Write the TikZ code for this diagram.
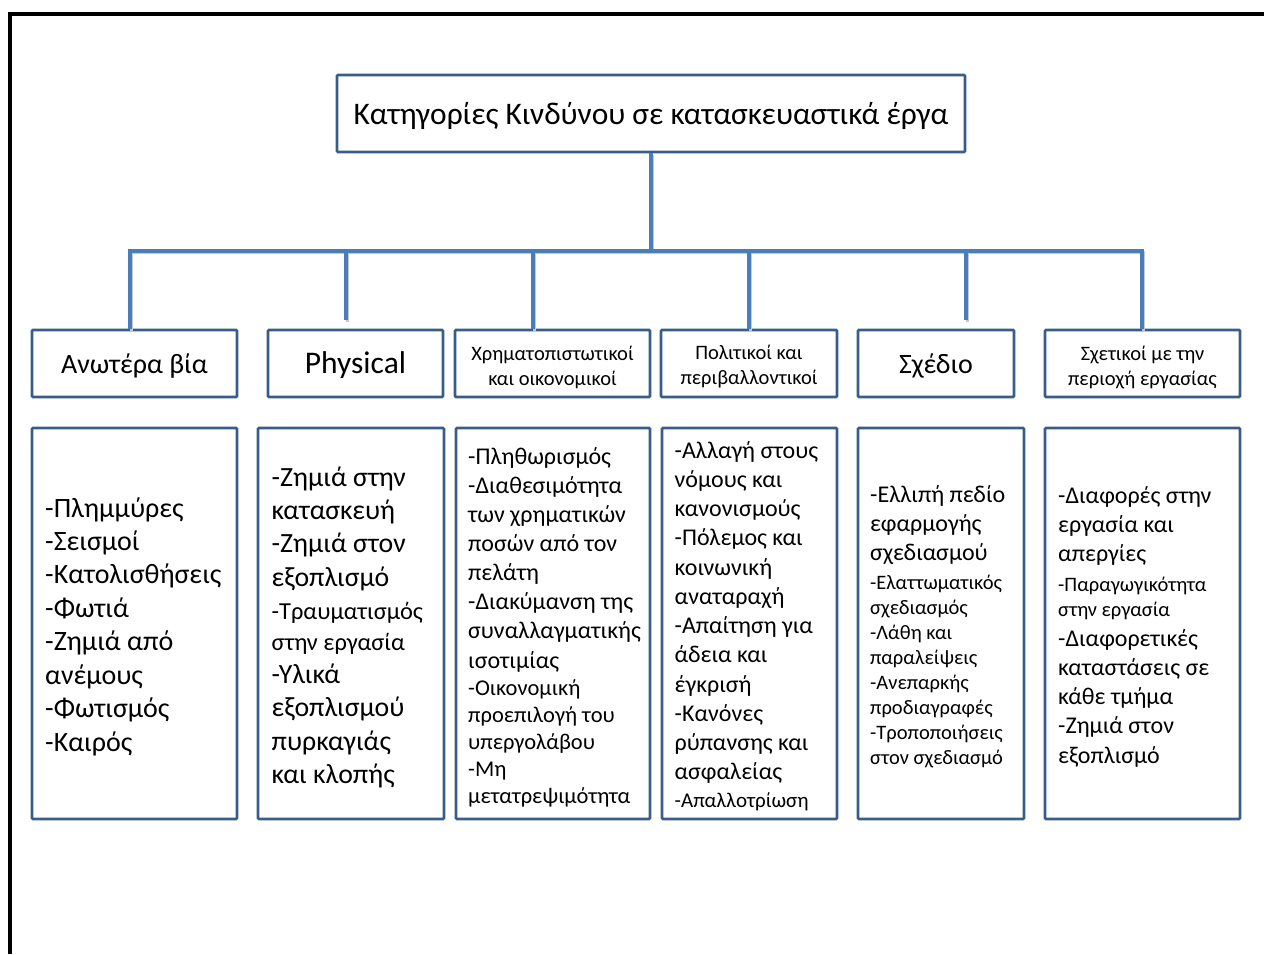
\documentclass[tikz,border=0pt]{standalone}
\usepackage{fontspec}
\setmainfont{Carlito}
\definecolor{boxblue}{HTML}{385D8A}
\definecolor{linkblue}{HTML}{4A7EBB}
% font size / line spacing
\newcommand\fsz[2]{\fontsize{#1}{#2}\selectfont}
% one line of a list
\newcommand\itm[1]{\hbox{#1}}
% list block: first baseline is the node's baseline, spacing exactly \baselineskip
\newcommand\lst[1]{\vtop{\lineskiplimit=-\maxdimen #1}}
\begin{document}
\begin{tikzpicture}[x=1pt,y=-1pt,
  frame/.style={draw=boxblue, line width=2.6pt, rounded corners=1pt, inner sep=0pt, fill=white},
  head/.style={frame, minimum height=67pt},
  body/.style={frame, minimum height=391pt},
  link/.style={draw=linkblue, line width=3.2pt, line join=miter,
    preaction={draw=black!22, line width=3.2pt, transform canvas={shift={(1.2pt,-1.8pt)}}}},
  list/.style={anchor=base west, inner sep=0pt},
  onelabel/.style={anchor=base, inner sep=0pt},
  twoline/.style={align=center, inner sep=0pt, font=\fsz{20.5}{25}},
]
\useasboundingbox (0,0) rectangle (1264,954);

% page frame (top and left rules)
\coordinate (fA) at (10,954);
\coordinate (fB) at (10,14);
\coordinate (fC) at (1264,14);
\draw[line width=4pt] (fA) -- (fB) -- (fC);

% root
\node[frame, minimum width=628pt, minimum height=77pt] (title) at (651,113.5) {};
\node[onelabel, font=\fsz{31.4}{38}] (titletext) at ([yshift=-10.5pt]title.center)
  {Κατηγορίες Κινδύνου σε κατασκευαστικά έργα};

% category headers
\node[head, minimum width=205pt] (h1) at (134.5,363.5) {};
\node[head, minimum width=175pt] (h2) at (355.5,363.5) {};
\node[head, minimum width=195pt] (h3) at (552.5,363.5) {};
\node[head, minimum width=176pt] (h4) at (749,363.5) {};
\node[head, minimum width=156pt] (h5) at (936,363.5) {};
\node[head, minimum width=195pt] (h6) at (1142.5,363.5) {};

\node[onelabel, font=\fsz{28}{34}] (l1) at ([yshift=-10pt]h1.center) {Ανωτέρα βία};
\node[onelabel, font=\fsz{31.5}{38}] (l2) at ([yshift=-10pt]h2.center) {Physical};
\node[twoline] (l3) at ([yshift=-3.5pt]h3.center) {Χρηματοπιστωτικοί\\και οικονομικοί};
\node[twoline] (l4) at ([yshift=-3.5pt]h4.center) {Πολιτικοί και\\περιβαλλοντικοί};
\node[onelabel, font=\fsz{28}{34}] (l5) at ([yshift=-10pt]h5.center) {Σχέδιο};
\node[twoline] (l6) at ([yshift=-3.5pt]h6.center) {Σχετικοί με την\\περιοχή εργασίας};

% connectors
\coordinate (bar) at (651,251);
\coordinate (d1) at (130,251);
\coordinate (d2) at (346,251);
\coordinate (d3) at (533,251);
\coordinate (d4) at (749,251);
\coordinate (d5) at (966,251);
\coordinate (d6) at (1142,251);
\coordinate (e2) at (346,320);
\coordinate (e5) at (966,320);
\draw[link] (title.south) -- (bar);
\draw[link] (d1 |- h1.north) -- (d1) -- (d6) -- (d6 |- h6.north);
\draw[link] (d2) -- (e2);
\draw[link] (d3) -- (d3 |- h3.north);
\draw[link] (d4) -- (d4 |- h4.north);
\draw[link] (d5) -- (e5);

% detail boxes
\node[body, minimum width=205pt] (c1) at (134.5,623.5) {};
\node[body, minimum width=186pt] (c2) at (351,623.5) {};
\node[body, minimum width=194pt] (c3) at (553,623.5) {};
\node[body, minimum width=175pt] (c4) at (749.5,623.5) {};
\node[body, minimum width=166pt] (c5) at (941,623.5) {};
\node[body, minimum width=195pt] (c6) at (1142.5,623.5) {};

\node[list] (t1) at (45,517) {\lst{\fsz{28}{33.43}%
  \itm{-Πλημμύρες}\itm{-Σεισμοί}\itm{-Κατολισθήσεις}\itm{-Φωτιά}%
  \itm{-Ζημιά από}\itm{ανέμους}\itm{-Φωτισμός}\itm{-Καιρός}}};

\node[list] (t2) at (271.5,486) {\lst{\fsz{27.8}{33.4}%
  \itm{-Ζημιά στην}\itm{κατασκευή}\itm{-Ζημιά στον}\itm{εξοπλισμό}%
  \fsz{24.4}{33}\itm{-Τραυματισμός}%
  \baselineskip=31pt \itm{στην εργασία}%
  \fsz{27.8}{33.3}\itm{-Υλικά}\itm{εξοπλισμού}\itm{πυρκαγιάς}\itm{και κλοπής}}};

\node[list] (t3) at (468,464) {\lst{\fsz{24}{29.15}%
  \itm{-Πληθωρισμός}\itm{-Διαθεσιμότητα}\itm{των χρηματικών}\itm{ποσών από τον}\itm{πελάτη}%
  \itm{-Διακύμανση της}\itm{συναλλαγματικής}\itm{ισοτιμίας}%
  \fsz{22.5}{27.5}\itm{-Οικονομική}%
  \baselineskip=27pt \itm{προεπιλογή του}\itm{υπεργολάβου}\itm{-Μη}\itm{μετατρεψιμότητα}}};

\node[list] (t4) at (674.5,458) {\lst{\fsz{24}{29.27}%
  \itm{-Αλλαγή στους}\itm{νόμους και}\itm{κανονισμούς}%
  \itm{-Πόλεμος και}\itm{κοινωνική}\itm{αναταραχή}%
  \itm{-Απαίτηση για}\itm{άδεια και}\itm{έγκρισή}%
  \itm{-Κανόνες}\itm{ρύπανσης και}\itm{ασφαλείας}%
  \fsz{21}{28}\itm{-Απαλλοτρίωση}}};

\node[list] (t5) at (870,502) {\lst{\fsz{24}{29}%
  \itm{-Ελλιπή πεδίο}\itm{εφαρμογής}\itm{σχεδιασμού}%
  \fsz{20.5}{29.8}\itm{-Ελαττωματικός}%
  \baselineskip=25pt \itm{σχεδιασμός}\itm{-Λάθη και}\itm{παραλείψεις}%
  \itm{-Ανεπαρκής}\itm{προδιαγραφές}\itm{-Τροποποιήσεις}\itm{στον σχεδιασμό}}};

\node[list] (t6) at (1058,503) {\lst{\fsz{24}{29}%
  \itm{-Διαφορές στην}\itm{εργασία και}\itm{απεργίες}%
  \fsz{20.5}{30.8}\itm{-Παραγωγικότητα}%
  \baselineskip=25pt \itm{στην εργασία}%
  \fsz{24}{29.2}\itm{-Διαφορετικές}%
  \baselineskip=29.25pt \itm{καταστάσεις σε}\itm{κάθε τμήμα}\itm{-Ζημιά στον}\itm{εξοπλισμό}}};
\end{tikzpicture}
\end{document}
